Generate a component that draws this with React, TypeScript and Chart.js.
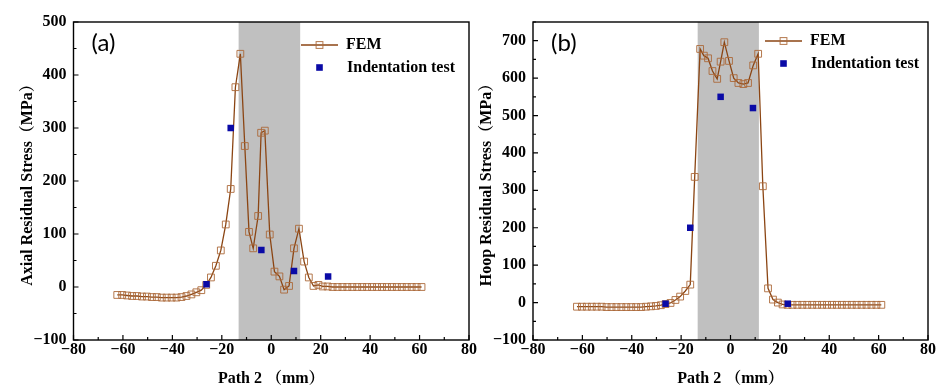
import React, { useEffect, useRef } from "react";
import { Chart, registerables } from "chart.js";

Chart.register(...registerables);

// ---------- data ----------
const axialX = [
  -62.3, -60.3, -58.3, -56.3, -54.3, -52.3, -50.3, -48.3, -46.3, -44.3, -42.3, -40.3, -38.3, -36.3, -34.3, -32.3, -30.3, -28.3,
  -26.3, -24.4, -22.4, -20.4, -18.4, -16.4, -14.5, -12.5, -10.7, -9.0, -7.3, -5.3, -4.1, -2.6, -0.6, 1.3, 3.3, 5.2, 7.2, 9.2, 11.2, 13.3, 15.2, 17.1, 19.1,
  20.8, 22.8, 24.8, 26.8, 28.8, 30.8, 32.8, 34.8, 36.8, 38.8, 40.8, 42.8, 44.8, 46.8, 48.8, 50.8, 52.8, 54.8, 56.8, 58.8, 60.8,
];
const axialY = [
  -15, -15, -16, -17, -17, -18, -18, -19, -19, -20, -20, -20, -20, -19, -17, -14, -10, -6,
  4, 18, 40, 69, 118, 185, 377, 440, 266, 104, 73, 134, 291, 295, 99, 29, 20, -5, 2, 73, 110, 48, 18, 2, 4,
  1, 1, 0, 0, 0, 0, 0, 0, 0, 0, 0, 0, 0, 0, 0, 0, 0, 0, 0, 0, 0,
];
const axialTestX = [-26.2, -16.4, -4.0, 9.2, 23.0];
const axialTestY = [5, 300, 70, 30, 20];

const hoopX = [
  -62.2, -60.2, -58.2, -56.2, -54.2, -52.2, -50.2, -48.2, -46.2, -44.2, -42.2, -40.2, -38.2, -36.2, -34.2, -32.2, -30.2, -28.2,
  -26.3, -24.3, -22.3, -20.4, -18.3, -16.3, -14.5, -12.3, -10.8, -9.1, -7.3, -5.4, -4.0, -2.5, -0.6, 1.3, 3.2, 5.2, 7.1, 9.2, 11.2, 13.1, 15.2, 17.2, 19.2,
  21.1, 23.1, 25.1, 27.1, 29.1, 31.1, 33.1, 35.1, 37.1, 39.1, 41.1, 43.1, 45.1, 47.1, 49.1, 51.1, 53.1, 55.1, 57.1, 59.1, 61.1,
];
const hoopY = [
  -11, -11, -11, -11, -11, -11, -12, -12, -12, -12, -12, -12, -12, -12, -11, -10, -9, -7,
  -4, -1, 7, 16, 31, 48, 336, 678, 660, 653, 619, 598, 644, 696, 646, 600, 587, 584, 587, 634, 665, 311, 38, 8, 0,
  -5, -6, -6, -6, -6, -6, -6, -6, -6, -6, -6, -6, -6, -6, -6, -6, -6, -6, -6, -6, -6,
];
const hoopTestX = [-26.3, -16.3, -4.0, 9.1, 23.2];
const hoopTestY = [-3, 200, 550, 520, -3];

const xRange = [-80, 80];
const axialRange = [-100, 500];
const hoopRange = [-100, 750];
const axialBand = [-13.2, 11.7];
const hoopBand = [-13.3, 11.5];

const seriesNames = ["FEM", "Indentation test"];
const xTitle = "Path 2 （mm）";
const axialTitle = "Axial Residual Stress（MPa）";
const hoopTitle = "Hoop Residual Stress（MPa）";

// ---------- styles ----------
const SERIF = "'Liberation Serif', 'Times New Roman', 'Noto Serif CJK SC', serif";
const LINE_COLOR = "#8B4513";
const MARK_COLOR = "rgba(172,105,58,0.9)";
const BLUE = "#0A0AA6";

const fmt = (v: number | string) => {
  const n = Number(v);
  return n < 0 ? "\u2212" + Math.abs(n) : String(n);
};

const framePlugin = {
  id: "frame",
  beforeDatasetsDraw(chart: any, _args: any, opts: any) {
    const { ctx, chartArea: a, scales } = chart;
    const x0 = scales.x.getPixelForValue(opts.band[0]);
    const x1 = scales.x.getPixelForValue(opts.band[1]);
    ctx.save();
    ctx.fillStyle = "#c0c0c0";
    ctx.fillRect(x0, a.top, x1 - x0, a.bottom - a.top);
    ctx.restore();
  },
  afterDraw(chart: any, _args: any, opts: any) {
    const { ctx, chartArea: a, scales } = chart;
    const xs = scales.x;
    const ys = scales.y;
    ctx.save();
    // frame
    ctx.strokeStyle = "#000";
    ctx.lineWidth = 1.4;
    ctx.strokeRect(a.left, a.top, a.right - a.left, a.bottom - a.top);
    // inward ticks
    ctx.lineWidth = 1.2;
    ctx.beginPath();
    for (let v = xs.min; v <= xs.max; v += 10) {
      const px = xs.getPixelForValue(v);
      const len = v % 20 === 0 ? 5 : 3;
      ctx.moveTo(px, a.bottom);
      ctx.lineTo(px, a.bottom - len);
    }
    for (let v = ys.min; v <= ys.max; v += 50) {
      const py = ys.getPixelForValue(v);
      const len = v % 100 === 0 ? 5 : 3;
      ctx.moveTo(a.left, py);
      ctx.lineTo(a.left + len, py);
    }
    ctx.stroke();

    // legend
    const ly1 = a.top + opts.legendY[0];
    const ly2 = a.top + opts.legendY[1];
    const lx0 = a.right + opts.legendX;
    ctx.strokeStyle = LINE_COLOR;
    ctx.lineWidth = 1.4;
    ctx.beginPath();
    ctx.moveTo(lx0, ly1);
    ctx.lineTo(lx0 + 37, ly1);
    ctx.stroke();
    ctx.strokeStyle = MARK_COLOR;
    ctx.lineWidth = 1;
    ctx.strokeRect(lx0 + 18.5 - 3.4, ly1 - 3.4, 6.8, 6.8);
    ctx.fillStyle = BLUE;
    ctx.fillRect(lx0 + 18.5 - 3.3, ly2 - 3.3, 6.6, 6.6);
    ctx.fillStyle = "#000";
    ctx.font = `bold 16px ${SERIF}`;
    ctx.textBaseline = "middle";
    ctx.textAlign = "left";
    ctx.fillText(seriesNames[0], lx0 + 45, ly1);
    ctx.fillText(seriesNames[1], lx0 + 46, ly2);

    // panel label
    ctx.font = "24px Lato, 'Open Sans', sans-serif";
    ctx.fillText(opts.label, a.left + 18, a.top + 21);
    ctx.restore();
  },
};

function makeConfig(p: {
  fx: number[];
  fy: number[];
  tx: number[];
  ty: number[];
  yRange: number[];
  band: number[];
  yTitle: string;
  yAxisWidth: number;
  yTitlePad: number;
  padRight: number;
  label: string;
  legendY: number[];
  legendX: number;
}) {
  const tickFont = { family: SERIF, size: 16, weight: "bold" as const };
  const titleFont = { family: SERIF, size: 16, weight: "bold" as const, lineHeight: 1 };
  return {
    type: "scatter" as const,
    data: {
      datasets: [
        {
          label: seriesNames[1],
          data: p.tx.map((x, i) => ({ x, y: p.ty[i] })),
          pointStyle: "rect",
          pointRadius: 4.6,
          backgroundColor: BLUE,
          borderColor: BLUE,
          borderWidth: 0,
          showLine: false,
          order: 0,
        },
        {
          label: seriesNames[0],
          data: p.fx.map((x, i) => ({ x, y: p.fy[i] })),
          showLine: true,
          borderColor: LINE_COLOR,
          borderWidth: 1.3,
          tension: 0,
          pointStyle: "rect",
          pointRadius: 4.8,
          pointBorderColor: MARK_COLOR,
          pointBackgroundColor: "rgba(0,0,0,0)",
          pointBorderWidth: 1,
          order: 1,
        },
      ],
    },
    options: {
      animation: false,
      responsive: false,
      maintainAspectRatio: false,
      events: [],
      layout: { padding: { top: 22, right: p.padRight, left: 0, bottom: 0 } },
      plugins: {
        legend: { display: false },
        tooltip: { enabled: false },
        frame: { band: p.band, label: p.label, legendY: p.legendY, legendX: p.legendX },
      },
      scales: {
        x: {
          type: "linear",
          min: xRange[0],
          max: xRange[1],
          grid: { display: false, drawTicks: false },
          border: { display: false },
          ticks: {
            stepSize: 20,
            font: tickFont,
            color: "#000",
            padding: 0,
            maxRotation: 0,
            callback: (v: any) => fmt(v),
          },
          title: { display: true, text: xTitle, font: titleFont, color: "#000", padding: { top: 0, bottom: 0 } },
          afterFit: (s: any) => {
            s.height = 47;
          },
        },
        y: {
          type: "linear",
          min: p.yRange[0],
          max: p.yRange[1],
          grid: { display: false, drawTicks: false },
          border: { display: false },
          ticks: {
            stepSize: 100,
            font: tickFont,
            color: "#000",
            padding: 7,
            callback: (v: any) => (Number(v) % 100 === 0 ? fmt(v) : ""),
          },
          title: {
            display: true,
            text: p.yTitle,
            font: { ...titleFont, lineHeight: 1.2 },
            color: "#000",
            padding: { top: p.yTitlePad, bottom: 0 },
          },
          afterFit: (s: any) => {
            s.width = p.yAxisWidth;
          },
        },
      },
    },
    plugins: [framePlugin],
  };
}

function Panel(props: { left: number; width: number; cfg: any }) {
  const ref = useRef<HTMLCanvasElement | null>(null);
  useEffect(() => {
    if (!ref.current) return;
    const chart = new Chart(ref.current, props.cfg);
    return () => chart.destroy();
  }, []);
  return (
    <canvas
      ref={ref}
      width={props.width}
      height={387}
      style={{ position: "absolute", left: props.left, top: 0, width: props.width, height: 387 }}
    />
  );
}

export default function App() {
  const leftCfg = makeConfig({
    fx: axialX,
    fy: axialY,
    tx: axialTestX,
    ty: axialTestY,
    yRange: axialRange,
    band: axialBand,
    yTitle: axialTitle,
    yAxisWidth: 73.5,
    yTitlePad: 18,
    padRight: 21,
    label: "(a)",
    legendY: [23, 45.5],
    legendX: -168,
  });
  const rightCfg = makeConfig({
    fx: hoopX,
    fy: hoopY,
    tx: hoopTestX,
    ty: hoopTestY,
    yRange: hoopRange,
    band: hoopBand,
    yTitle: hoopTitle,
    yAxisWidth: 62,
    yTitlePad: 6,
    padRight: 14,
    label: "(b)",
    legendY: [19, 41.5],
    legendX: -163,
  });
  return (
    <div
      style={{
        position: "fixed",
        left: 0,
        top: 0,
        width: 942,
        height: 387,
        overflow: "hidden",
        background: "#fff",
      }}
    >
      <Panel left={0} width={490} cfg={leftCfg} />
      <Panel left={471} width={471} cfg={rightCfg} />
    </div>
  );
}
